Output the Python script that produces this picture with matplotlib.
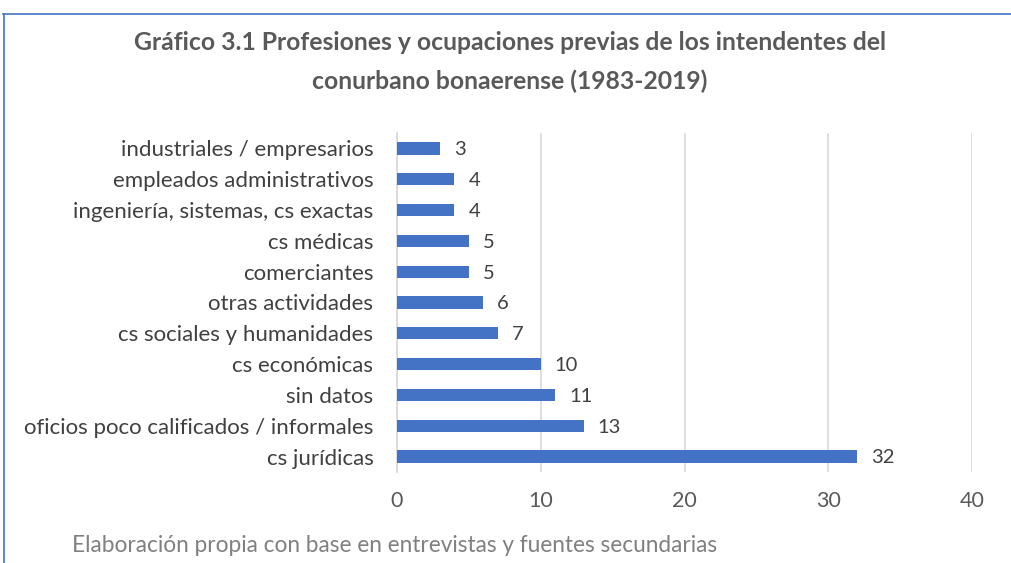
import matplotlib
matplotlib.use("Agg")
import matplotlib.pyplot as plt
from matplotlib.lines import Line2D

categories = ["industriales / empresarios", "empleados administrativos",
              "ingeniería, sistemas, cs exactas", "cs médicas", "comerciantes",
              "otras actividades", "cs sociales y humanidades", "cs económicas",
              "sin datos", "oficios poco calificados / informales", "cs jurídicas"]
values = [3, 4, 4, 5, 5, 6, 7, 10, 11, 13, 32]
xticks = [0, 10, 20, 30, 40]
title = "Gráfico 3.1 Profesiones y ocupaciones previas de los intendentes del\nconurbano bonaerense (1983-2019)"
footer = "Elaboración propia con base en entrevistas y fuentes secundarias"

plt.rcParams['font.family'] = ['Lato', 'DejaVu Sans']

fig = plt.figure(figsize=(10.12, 5.63), dpi=100)
ax = fig.add_axes([397/1012, 1-472/563, (972-397)/1012, (472-133)/563])

n = len(categories)
ypos = list(range(n))
ax.barh(ypos, values, height=0.4, color="#4472C4", zorder=3)
ax.set_ylim(n - 0.5, -0.5)
ax.set_xlim(0, 40)
ax.set_xticks(xticks)
ax.set_yticks(ypos)
ax.set_yticklabels(categories, fontsize=16, color="#404040")
ax.set_xticklabels([str(t) for t in xticks], fontsize=15.5, color="#595959")
ax.tick_params(axis='both', length=0)
ax.tick_params(axis='y', pad=17)
ax.tick_params(axis='x', pad=14)
ax.grid(axis='x', color="#D9D9D9", linewidth=1.2, zorder=0)
for s in ['top', 'right', 'bottom']:
    ax.spines[s].set_visible(False)
ax.spines['left'].set_color("#D9D9D9")
ax.spines['left'].set_linewidth(1.2)

for y, v in zip(ypos, values):
    ax.annotate(str(v), (v, y), xytext=(10, -1), textcoords='offset points',
                va='center', ha='left', fontsize=14.5, color="#404040")

fig.text(510/1012, 1-62/563, title, ha='center', va='center', fontsize=17.8,
         fontweight='bold', color="#595959", linespacing=1.75)
fig.text(72/1012, 1-545/563, footer, ha='left', va='center', fontsize=16.3,
         color="#808080")

# border lines
fig.add_artist(Line2D([3/1012, 1], [1-14/563, 1-14/563], color="#4472C4", lw=1.2,
                      transform=fig.transFigure))
fig.add_artist(Line2D([4/1012, 4/1012], [0, 1-14/563], color="#4472C4", lw=1.2,
                      transform=fig.transFigure))

fig.savefig("out.png", dpi=100)
